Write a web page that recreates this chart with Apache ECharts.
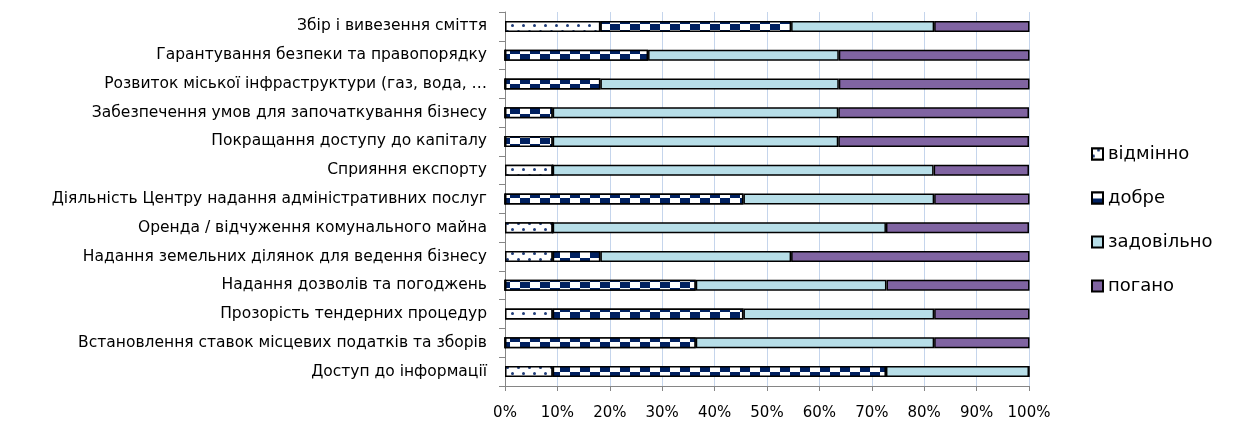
<!DOCTYPE html>
<html>
<head>
<meta charset="utf-8">
<script src="https://cdn.jsdelivr.net/npm/echarts@6/dist/echarts.min.js"></script>
<style>
  html, body { margin: 0; padding: 0; background: #fff; }
  #chart { width: 1234px; height: 427px; }
</style>
</head>
<body>
<div id="chart"></div>
<script>
// категорії, зверху вниз
var categories = [
  'Збір і вивезення сміття',
  'Гарантування безпеки та правопорядку',
  'Розвиток міської інфраструктури (газ, вода, …',
  'Забезпечення умов для започаткування бізнесу',
  'Покращання доступу до капіталу',
  'Сприяння експорту',
  'Діяльність Центру надання адміністративних послуг',
  'Оренда / відчуження комунального майна',
  'Надання земельних ділянок для ведення бізнесу',
  'Надання дозволів та погоджень',
  'Прозорість тендерних процедур',
  'Встановлення ставок місцевих податків та зборів',
  'Доступ до інформації'
];
var seriesNames = ['відмінно', 'добре', 'задовільно', 'погано'];
// частки, %
var vidminno   = [18.2, 0, 0, 0, 0, 9.1, 0, 9.1, 9.1, 0, 9.1, 0, 9.1];
var dobre      = [36.4, 27.3, 18.2, 9.1, 9.1, 0, 45.5, 0, 9.1, 36.4, 36.4, 36.4, 63.6];
var zadovilno  = [27.3, 36.4, 45.5, 54.5, 54.5, 72.7, 36.4, 63.6, 36.4, 36.4, 36.4, 45.5, 27.3];
var pohano     = [18.2, 36.4, 36.4, 36.4, 36.4, 18.2, 18.2, 27.3, 45.5, 27.3, 18.2, 18.2, 0];
var xTicks = [0, 10, 20, 30, 40, 50, 60, 70, 80, 90, 100];

var chart = echarts.init(document.getElementById('chart'));
var font = 'DejaVu Sans';

// візерунки як в Excel
var dotsDecal = {
  symbol: 'circle',
  symbolSize: 1,
  symbolKeepAspect: true,
  color: '#1f3c78',
  backgroundColor: '#ffffff',
  dashArrayX: [[2.5, 7.5], [0, 5, 2.5, 2.5]],
  dashArrayY: [2.5, 2.5],
  rotation: 0
};
var checkerDecal = {
  symbol: 'rect',
  symbolSize: 1,
  symbolKeepAspect: false,
  color: '#002060',
  backgroundColor: '#ffffff',
  dashArrayX: [[10, 10], [0, 10, 10, 0]],
  dashArrayY: [5.5, 0],
  rotation: 0
};

function bar(name, data, color, decal) {
  var s = {
    name: name,
    type: 'bar',
    stack: 'total',
    barWidth: 11,
    data: data,
    itemStyle: {
      color: color,
      borderColor: '#000',
      borderWidth: 1.5
    }
  };
  if (decal) s.itemStyle.decal = decal;
  return s;
}

var option = {
  backgroundColor: '#fff',
  animation: false,
  grid: {
    left: 505,
    right: 205,
    top: 12,
    bottom: 41,
    containLabel: false
  },
  legend: {
    orient: 'vertical',
    left: 1086,
    top: 140,
    itemGap: 26,
    itemWidth: 11,
    itemHeight: 11,
    icon: 'rect',
    data: seriesNames,
    textStyle: { fontFamily: font, fontSize: 18, color: '#000' }
  },
  xAxis: {
    type: 'value',
    min: 0,
    max: 100,
    interval: 10,
    axisLine: { show: true, lineStyle: { color: '#868686', width: 1 } },
    axisTick: { show: true, length: 5, lineStyle: { color: '#868686' } },
    splitLine: { show: true, lineStyle: { color: '#c5d5ec', width: 1 } },
    axisLabel: {
      margin: 20,
      fontFamily: font,
      fontSize: 15,
      color: '#000',
      formatter: function (v) {
        return xTicks.indexOf(v) >= 0 ? v + '%' : '';
      }
    }
  },
  yAxis: {
    type: 'category',
    inverse: true,
    data: categories,
    axisLine: { show: true, lineStyle: { color: '#868686', width: 1 } },
    axisTick: { show: true, length: 6, lineStyle: { color: '#868686' } },
    axisLabel: {
      margin: 18,
      fontFamily: font,
      fontSize: 15.5,
      color: '#000'
    }
  },
  series: [
    bar(seriesNames[0], vidminno, '#ffffff', dotsDecal),
    bar(seriesNames[1], dobre, '#ffffff', checkerDecal),
    bar(seriesNames[2], zadovilno, '#b7dee8'),
    bar(seriesNames[3], pohano, '#8064a2')
  ]
};

chart.setOption(option);
</script>
</body>
</html>
